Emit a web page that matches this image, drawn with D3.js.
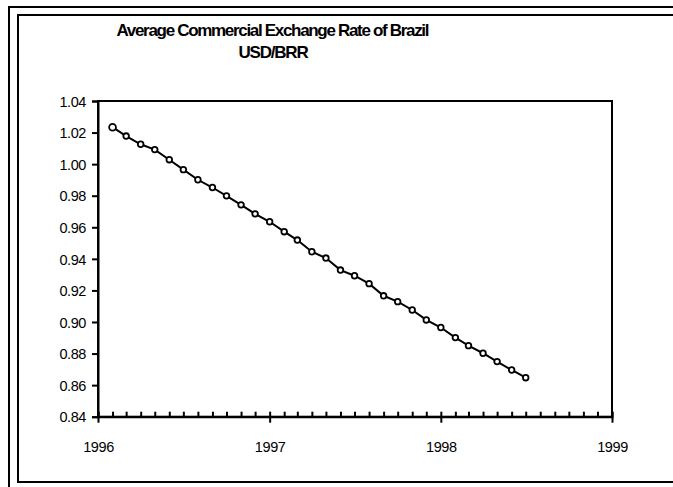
<!DOCTYPE html>
<html>
<head>
<meta charset="utf-8">
<script src="https://cdn.jsdelivr.net/npm/d3@7"></script>
<style>
  html, body { margin: 0; padding: 0; background: #fff; }
  svg { display: block; }
  text { font-family: "Liberation Sans", Arial, sans-serif; fill: #000; }
</style>
</head>
<body>
<svg id="chart" width="673" height="487"></svg>
<script>
// Monthly average commercial exchange rate, USD/BRR
const months = [
  "1996-02", "1996-03", "1996-04", "1996-05", "1996-06", "1996-07",
  "1996-08", "1996-09", "1996-10", "1996-11", "1996-12", "1997-01",
  "1997-02", "1997-03", "1997-04", "1997-05", "1997-06", "1997-07",
  "1997-08", "1997-09", "1997-10", "1997-11", "1997-12", "1998-01",
  "1998-02", "1998-03", "1998-04", "1998-05", "1998-06", "1998-07"
];
const rates = [
  1.0234, 1.0178, 1.0126, 1.0092, 1.0028, 0.9965,
  0.9901, 0.9852, 0.9799, 0.9742, 0.9685, 0.9635,
  0.9572, 0.9519, 0.9445, 0.9405, 0.9329, 0.9293,
  0.9243, 0.9166, 0.9129, 0.9076, 0.9013, 0.8965,
  0.8901, 0.8850, 0.8802, 0.8749, 0.8696, 0.8647
];
const yTicks = [0.84, 0.86, 0.88, 0.90, 0.92, 0.94, 0.96, 0.98, 1.00, 1.02, 1.04];
const yearTicks = [1996, 1997, 1998, 1999];
const titleLines = ["Average Commercial Exchange Rate of Brazil", "USD/BRR"];

const parseMonth = d3.timeParse("%Y-%m");
const data = months.map((m, i) => ({ date: parseMonth(m), value: rates[i] }));

const svg = d3.select("#chart");

// outer and inner frames
svg.append("path")
  .attr("d", "M9,487 V7 H673")
  .attr("fill", "none").attr("stroke", "#000").attr("stroke-width", 2);
svg.append("path")
  .attr("d", "M673,15 H18 V482 H673")
  .attr("fill", "none").attr("stroke", "#000").attr("stroke-width", 2);

const plot = { left: 98, right: 612, top: 101, bottom: 416.7 };

const x = d3.scaleTime()
  .domain([new Date(1996, 0, 1), new Date(1999, 0, 1)])
  .range([plot.left, plot.right]);
const y = d3.scaleLinear()
  .domain([0.84, 1.04])
  .range([plot.bottom, plot.top]);

// title
const title = svg.append("text")
  .attr("text-anchor", "middle")
  .style("font-weight", "bold")
  .style("font-size", "17px");
title.append("tspan").attr("x", 273).attr("y", 36)
  .attr("textLength", 313).attr("lengthAdjust", "spacing")
  .text(titleLines[0]);
title.append("tspan").attr("x", 273).attr("y", 58)
  .style("letter-spacing", "-1.2px")
  .text(titleLines[1]);

// plot area border
svg.append("rect")
  .attr("x", plot.left).attr("y", plot.top)
  .attr("width", plot.right - plot.left).attr("height", plot.bottom - plot.top)
  .attr("fill", "none").attr("stroke", "#000").attr("stroke-width", 2);

// y axis
const yAxis = d3.axisLeft(y)
  .tickValues(yTicks)
  .tickFormat(d3.format(".2f"))
  .tickSize(6)
  .tickPadding(6);
const gy = svg.append("g")
  .attr("transform", `translate(${plot.left},0)`)
  .call(yAxis);
gy.select(".domain").attr("stroke-width", 2);
gy.selectAll(".tick line").attr("stroke-width", 2);
gy.selectAll(".tick text")
  .style("font-size", "14.5px")
  .style("font-family", "'Liberation Sans', Arial, sans-serif")
  .style("letter-spacing", "-0.4px")
  .attr("fill", "#000")
  .attr("dy", "0.36em");

// x axis: monthly minor ticks inside, yearly major ticks outside
const minorTicks = d3.timeMonth.range(new Date(1996, 0, 1), new Date(1999, 0, 2));
const gxMinor = svg.append("g")
  .attr("transform", `translate(0,${plot.bottom})`)
  .call(d3.axisBottom(x).tickValues(minorTicks).tickSize(-5).tickFormat(""));
gxMinor.select(".domain").attr("stroke-width", 2);
gxMinor.selectAll(".tick line").attr("stroke-width", 2);

const gx = svg.append("g")
  .attr("transform", `translate(0,${plot.bottom})`)
  .call(d3.axisBottom(x)
    .tickValues(yearTicks.map(yr => new Date(yr, 0, 1)))
    .tickFormat(d3.timeFormat("%Y"))
    .tickSize(6)
    .tickPadding(19));
gx.select(".domain").remove();
gx.selectAll(".tick line").attr("stroke-width", 2);
gx.selectAll(".tick text")
  .style("font-size", "14.5px")
  .style("font-family", "'Liberation Sans', Arial, sans-serif")
  .style("letter-spacing", "-0.4px")
  .attr("fill", "#000");

// series line
const line = d3.line().x(d => x(d.date)).y(d => y(d.value));
svg.append("path")
  .datum(data)
  .attr("d", line)
  .attr("fill", "none")
  .attr("stroke", "#000")
  .attr("stroke-width", 2);

// open circle markers
svg.append("g").selectAll("circle")
  .data(data)
  .join("circle")
  .attr("cx", d => x(d.date))
  .attr("cy", d => y(d.value))
  .attr("r", (d, i) => i === 0 ? 3.4 : 2.8)
  .attr("fill", "#fff")
  .attr("stroke", "#000")
  .attr("stroke-width", 1.8);
</script>
</body>
</html>
